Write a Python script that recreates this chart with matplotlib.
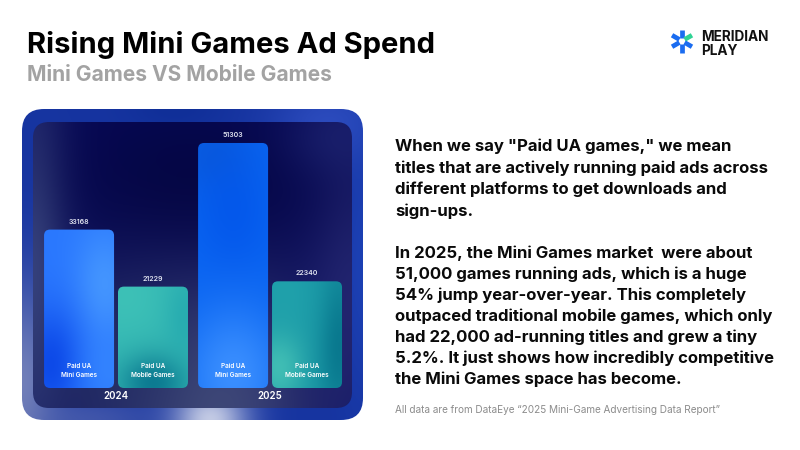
import numpy as np
import matplotlib
matplotlib.use('Agg')
import matplotlib.pyplot as plt
from matplotlib.patches import FancyBboxPatch
from matplotlib.colors import to_rgb

# ---------------- data ----------------
years = ['2024', '2025']
series_labels = ['Paid UA\nMini Games', 'Paid UA\nMobile Games']
mini_games = [33168, 51303]
mobile_games = [21229, 22340]

title = 'Rising Mini Games Ad Spend'
subtitle = 'Mini Games VS Mobile Games'
para1 = ['When we say "Paid UA games," we mean',
         'titles that are actively running paid ads across',
         'different platforms to get downloads and',
         'sign-ups.']
para2 = ['In 2025, the Mini Games market  were about',
         '51,000 games running ads, which is a huge',
         '54% jump year-over-year. This completely',
         'outpaced traditional mobile games, which only',
         'had 22,000 ad-running titles and grew a tiny',
         '5.2%. It just shows how incredibly competitive',
         'the Mini Games space has become.']
footer = 'All data are from DataEye \u201c2025 Mini-Game Advertising Data Report\u201d'
logo_text = ['MERIDIAN', 'PLAY']

plt.rcParams['font.family'] = ['Inter', 'DejaVu Sans']

W, H = 800, 450
fig = plt.figure(figsize=(8, 4.5), dpi=100)
fig.patch.set_facecolor('white')
bg = fig.add_axes([0, 0, 1, 1])
bg.set_xlim(0, W)
bg.set_ylim(H, 0)
bg.axis('off')


def field(w, h, base, blobs, n=120):
    nx = max(int(n * w / max(w, h)), 8)
    ny = max(int(n * h / max(w, h)), 8)
    v, u = np.mgrid[0:ny, 0:nx]
    u = (u + 0.5) / nx
    v = (v + 0.5) / ny
    img = np.ones((ny, nx, 3)) * np.array(to_rgb(base))
    for cu, cv, su, sv, col, a in blobs:
        wgt = a * np.exp(-0.5 * (((u - cu) / su) ** 2 + ((v - cv) / sv) ** 2))
        wgt = wgt[..., None]
        img = img * (1 - wgt) + np.array(to_rgb(col)) * wgt
    return img


def grad_box(ax, x0, y0, w, h, r, base, blobs, z=1):
    patch = FancyBboxPatch((x0, y0), w, h, boxstyle=f'round,pad=0,rounding_size={r}',
                           facecolor='none', edgecolor='none', zorder=z)
    ax.add_patch(patch)
    img = field(w, h, base, blobs)
    im = ax.imshow(img, extent=(x0, x0 + w, y0 + h, y0), interpolation='bicubic',
                   zorder=z, aspect='auto')
    im.set_clip_path(patch)
    return patch


# outer frame
grad_box(bg, 22, 109, 341, 311, 22, '#1634a0', [
    (0.0, 0.9, 0.08, 0.25, '#7c88bc', 0.9),
    (0.55, 1.0, 0.08, 0.08, '#d0d6ea', 0.95),
    (0.9, 0.05, 0.12, 0.1, '#3a5ad0', 0.6),
    (0.45, 0.0, 0.1, 0.05, '#0a2a90', 0.5),
    (1.0, 0.5, 0.05, 0.3, '#2048c0', 0.6),
    (0.2, 1.0, 0.15, 0.06, '#5a6ab0', 0.6),
], z=1)

# inner panel
grad_box(bg, 33, 122, 319, 286, 16, '#07095a', [
    (0.55, 1.0, 0.25, 0.35, '#48527e', 0.9),
    (0.0, 0.5, 0.08, 0.45, '#46558c', 0.8),
    (0.25, 0.85, 0.2, 0.25, '#263064', 0.7),
    (1.0, 0.55, 0.1, 0.4, '#2b2e78', 0.7),
    (0.5, 0.2, 0.3, 0.2, '#03043c', 0.7),
    (0.95, 0.05, 0.12, 0.1, '#222a78', 0.5),
], z=2)

# bar axes
ax = fig.add_axes([35 / W, (H - 388) / H, (352 - 35) / W, (388 - 122) / H])
ax.set_zorder(5)
ax.patch.set_alpha(0)
ax.set_xlim(-0.526, 1.532)
ax.set_ylim(0, 266 / 0.004776)
ax.axis('off')

x = np.arange(len(years))
width = 0.4545
off = 0.24
b1 = ax.bar(x - off, mini_games, width, color='none', edgecolor='none')
b2 = ax.bar(x + off, mobile_games, width, color='none', edgecolor='none')

styles = {
    ('mini', 0): ('#2a78ff', [(0.85, 0.35, 0.3, 0.25, '#4a9cff', 0.8),
                             (0.1, 0.85, 0.3, 0.25, '#0a45e6', 0.9),
                             (0.9, 0.9, 0.25, 0.15, '#3a8cff', 0.5)]),
    ('mobile', 0): ('#35b8b4', [(0.1, 0.1, 0.4, 0.3, '#40c4b8', 0.7),
                               (0.5, 0.95, 0.35, 0.2, '#0a7890', 0.95),
                               (0.95, 0.3, 0.2, 0.3, '#1fa5ae', 0.6)]),
    ('mini', 1): ('#0a66f2', [(0.2, 0.05, 0.4, 0.12, '#0a58d8', 0.8),
                             (0.5, 0.3, 0.4, 0.2, '#0050e8', 0.6),
                             (0.5, 0.95, 0.5, 0.2, '#3c90ff', 0.95)]),
    ('mobile', 1): ('#1a98a6', [(0.1, 0.8, 0.25, 0.25, '#45c2b6', 0.9),
                               (0.95, 0.6, 0.2, 0.5, '#07758c', 0.9),
                               (0.2, 0.1, 0.3, 0.3, '#23a6ae', 0.6)]),
}

for kind, bars, vals in (('mini', b1, mini_games), ('mobile', b2, mobile_games)):
    for i, (rect, v) in enumerate(zip(bars, vals)):
        bb = rect.get_bbox()
        (px0, py0), (px1, py1) = ax.transData.transform([[bb.x0, bb.y0], [bb.x1, bb.y1]])
        inv = bg.transData.inverted()
        (dx0, dy0), (dx1, dy1) = inv.transform([[px0, py0], [px1, py1]])
        base, blobs = styles[(kind, i)]
        grad_box(bg, dx0, dy1, dx1 - dx0, dy0 - dy1, 6, base, blobs, z=3)
        xc = rect.get_x() + rect.get_width() / 2
        ax.annotate(f'{v}', (xc, v), xytext=(0, 3.5), textcoords='offset points',
                    ha='center', va='bottom', fontsize=5, color='#e3e6f2',
                    fontweight='semibold')
        ax.annotate(series_labels[0 if kind == 'mini' else 1], (xc, 0),
                    xytext=(0, 12.5), textcoords='offset points', ha='center',
                    va='center', fontsize=4.6, color='white', linespacing=1.6,
                    fontweight='semibold')

for i, yr in enumerate(years):
    ax.annotate(yr, (x[i], 0), xytext=(0, -5.5), textcoords='offset points',
                ha='center', va='center', fontsize=7, color='white',
                fontweight='semibold')

# titles
bg.text(27, 53, title, fontsize=21, fontweight='bold', color='black', va='baseline')
bg.text(27, 81, subtitle, fontsize=15.1, fontweight='bold', color='#a3a3a3',
        va='baseline')

# paragraphs
y = 151
for line in para1:
    bg.text(395, y, line, fontsize=12.0, fontweight='bold', color='#0a0a0a',
            va='baseline')
    y += 21.6
y = 258
for line in para2:
    bg.text(395, y, line, fontsize=12.0, fontweight='bold', color='#0a0a0a',
            va='baseline')
    y += 21.0

bg.text(395, 413, footer, fontsize=7.2, color='#8c8c8c', va='baseline')

# logo
cx, cy = 682, 41
for ang, col in ((90, '#1a6cf0'), (30, '#2fd394'), (-30, '#1a6cf0'),
                 (-90, '#1a6cf0'), (-150, '#1a6cf0'), (150, '#1a6cf0')):
    a = np.deg2rad(ang)
    r0, r1 = 3.0, 11.5
    bg.plot([cx + r0 * np.cos(a), cx + r1 * np.cos(a)],
            [cy - r0 * np.sin(a), cy - r1 * np.sin(a)], color=col, lw=3.4,
            solid_capstyle='butt', zorder=6)
bg.text(701, 41, logo_text[0], fontsize=9.8, fontweight='bold', color='#111111',
        va='baseline')
bg.text(701, 55, logo_text[1], fontsize=9.8, fontweight='bold', color='#111111',
        va='baseline')

fig.savefig('out.png', dpi=100, facecolor='white')
